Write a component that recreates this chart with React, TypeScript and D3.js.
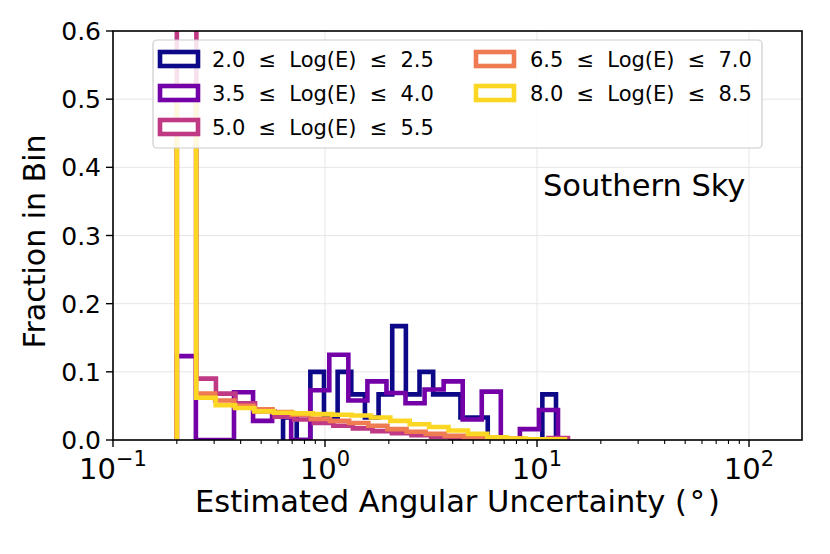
import React from 'react';
import * as d3 from 'd3';

const W = 830;
const H = 554;
const M = { left: 113, right: 802, top: 31, bottom: 440 };

const X_DOMAIN = [0.1, 177.8];
const Y_DOMAIN = [0, 0.6];
const X_MAJOR = [0.1, 1, 10, 100];
const X_MAJOR_EXP = ['−1', '0', '1', '2'];
const Y_TICKS = [0, 0.1, 0.2, 0.3, 0.4, 0.5, 0.6];

const SERIES_LABELS = [
  '2.0 ≤ Log(E) ≤ 2.5',
  '3.5 ≤ Log(E) ≤ 4.0',
  '5.0 ≤ Log(E) ≤ 5.5',
  '6.5 ≤ Log(E) ≤ 7.0',
  '8.0 ≤ Log(E) ≤ 8.5',
];
const SERIES_CMAP_POS = [0, 0.225, 0.45, 0.675, 0.92];
// [min, max] of the 20 log-spaced bins of each histogram (degrees)
const BIN_RANGES = [
  [0.634, 12.29],
  [0.2, 12.56],
  [0.2, 14.0],
  [0.2, 12.8],
  [0.2, 13.55],
];
const N_BINS = 20;

const FRAC_2_0 = [0.033, 0, 0.1, 0.033, 0.1, 0.067, 0.033, 0.067, 0.167, 0.067, 0.1, 0.067, 0.067, 0.033, 0.033, 0, 0, 0, 0, 0.067];
const FRAC_3_5 = [0.123, 0, 0, 0.07, 0.028, 0.035, 0, 0.073, 0.125, 0.058, 0.086, 0.069, 0.054, 0.074, 0.086, 0.03, 0.071, 0, 0.016, 0.044];
const FRAC_5_0 = [0.7, 0.09, 0.068, 0.054, 0.042, 0.034, 0.03, 0.025, 0.021, 0.017, 0.013, 0.01, 0.007, 0.005, 0.003, 0.002, 0.0015, 0.001, 0.001, 0.003];
const FRAC_6_5 = [0.5, 0.068, 0.058, 0.05, 0.045, 0.041, 0.037, 0.031, 0.028, 0.025, 0.021, 0.016, 0.012, 0.009, 0.006, 0.004, 0.003, 0.002, 0.001, 0.001];
const FRAC_8_0 = [0.52, 0.062, 0.051, 0.047, 0.042, 0.04, 0.039, 0.038, 0.037, 0.036, 0.033, 0.028, 0.023, 0.019, 0.014, 0.009, 0.004, 0.002, 0.001, 0.001];
const SERIES_VALUES = [FRAC_2_0, FRAC_3_5, FRAC_5_0, FRAC_6_5, FRAC_8_0];

const FONT = '"DejaVu Sans", sans-serif';

function logEdges(lo: number, hi: number, n: number): number[] {
  return d3.range(n + 1).map((i) => lo * Math.pow(hi / lo, i / n));
}

export default function App() {
  const x = d3.scaleLog().domain(X_DOMAIN).range([M.left, M.right]);
  const y = d3.scaleLinear().domain(Y_DOMAIN).range([M.bottom, M.top]);
  const colors = SERIES_CMAP_POS.map((t) => d3.interpolatePlasma(t));

  const minorTicks: number[] = [];
  [0.1, 1, 10, 100].forEach((d) => {
    for (let k = 2; k <= 9; k++) {
      const v = d * k;
      if (v <= X_DOMAIN[1]) minorTicks.push(v);
    }
  });

  const line = d3
    .line<[number, number]>()
    .x((d) => x(d[0]))
    .y((d) => y(d[1]));

  const paths = SERIES_VALUES.map((vals, si) => {
    const edges = logEdges(BIN_RANGES[si][0], BIN_RANGES[si][1], N_BINS);
    const pts: [number, number][] = [[edges[0], 0]];
    vals.forEach((v, i) => {
      pts.push([edges[i], v]);
      pts.push([edges[i + 1], v]);
    });
    pts.push([edges[N_BINS], 0]);
    return line(pts) as string;
  });

  const legend = { x: 153, y: 40, w: 609, h: 108 };
  const legendRows = [59, 93, 127];
  const legendCols = [{ px: 158, tx: 212 }, { px: 474, tx: 530 }];
  const legendItems = SERIES_LABELS.map((lab, i) => {
    const col = i < 3 ? 0 : 1;
    const row = i < 3 ? i : i - 3;
    return { lab, col, row, color: colors[i] };
  });

  return (
    <svg
      width={W}
      height={H}
      style={{ position: 'absolute', left: 0, top: 0, background: '#fff' }}
      fontFamily={FONT}
    >
      <defs>
        <clipPath id="plotclip">
          <rect x={M.left} y={M.top} width={M.right - M.left} height={M.bottom - M.top} />
        </clipPath>
      </defs>
      <rect x={0} y={0} width={W} height={H} fill="#fff" />
      {/* grid */}
      <g stroke="#e6e6e6" strokeWidth={1}>
        {X_MAJOR.map((v) => (
          <line key={'gx' + v} x1={x(v)} x2={x(v)} y1={M.top} y2={M.bottom} />
        ))}
        {Y_TICKS.map((v) => (
          <line key={'gy' + v} x1={M.left} x2={M.right} y1={y(v)} y2={y(v)} />
        ))}
      </g>
      {/* histograms */}
      <g clipPath="url(#plotclip)" fill="none" strokeWidth={4.6} strokeLinejoin="miter">
        {paths.map((p, i) => (
          <path key={'h' + i} d={p} stroke={colors[i]} />
        ))}
      </g>
      {/* spines */}
      <rect
        x={M.left}
        y={M.top}
        width={M.right - M.left}
        height={M.bottom - M.top}
        fill="none"
        stroke="#000"
        strokeWidth={1.6}
      />
      {/* ticks */}
      <g stroke="#000" strokeWidth={1.4}>
        {X_MAJOR.map((v) => (
          <line key={'xt' + v} x1={x(v)} x2={x(v)} y1={M.bottom} y2={M.bottom + 7} />
        ))}
        {minorTicks.map((v) => (
          <line key={'xm' + v} x1={x(v)} x2={x(v)} y1={M.bottom} y2={M.bottom + 4} strokeWidth={1.1} />
        ))}
        {Y_TICKS.map((v) => (
          <line key={'yt' + v} x1={M.left - 7} x2={M.left} y1={y(v)} y2={y(v)} />
        ))}
      </g>
      {/* x tick labels */}
      <g fontSize={29} fill="#000">
        {X_MAJOR.map((v, i) => (
          <text key={'xl' + v} x={x(v)} y={479} textAnchor="middle">
            10
            <tspan dy={-13} fontSize={21}>
              {X_MAJOR_EXP[i]}
            </tspan>
          </text>
        ))}
      </g>
      {/* y tick labels */}
      <g fontSize={25} fill="#000">
        {Y_TICKS.map((v) => (
          <text key={'yl' + v} x={M.left - 12} y={y(v)} dy="0.36em" textAnchor="end">
            {v.toFixed(1)}
          </text>
        ))}
      </g>
      {/* axis labels */}
      <text x={(M.left + M.right) / 2} y={512} textAnchor="middle" fontSize={30.5}>
        Estimated Angular Uncertainty (<tspan dx={3}>°</tspan><tspan dx={3}>)</tspan>
      </text>
      <text
        transform={`translate(45,${(M.top + M.bottom) / 2 + 6}) rotate(-90)`}
        textAnchor="middle"
        fontSize={30}
      >
        Fraction in Bin
      </text>
      <text x={543} y={196} fontSize={30.5}>
        Southern Sky
      </text>
      {/* legend */}
      <rect
        x={legend.x}
        y={legend.y}
        width={legend.w}
        height={legend.h}
        rx={4}
        fill="#fff"
        fillOpacity={0.85}
        stroke="#cccccc"
        strokeWidth={1.2}
      />
      {legendItems.map((it, i) => {
        const c = legendCols[it.col];
        const cy = legendRows[it.row];
        return (
          <g key={'lg' + i}>
            <rect x={c.px + 2} y={cy - 7} width={38} height={14} fill="#fff" stroke={it.color} strokeWidth={4.6} />
            <text x={c.tx} y={cy} dy="0.36em" fontSize={21} style={{ wordSpacing: '6.5px' }}>
              {it.lab}
            </text>
          </g>
        );
      })}
    </svg>
  );
}
